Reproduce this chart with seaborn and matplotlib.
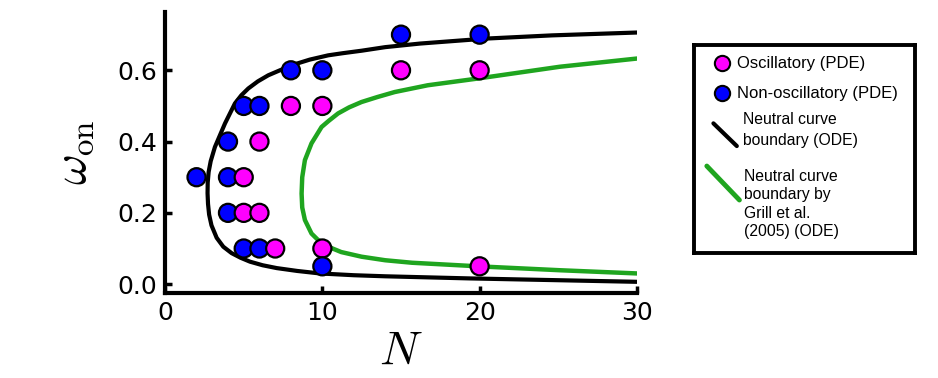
import pandas as pd
import matplotlib.pyplot as plt
import seaborn as sns

# Simulation points (PDE)
osc_N = [5, 5, 6, 6, 7, 8, 10, 10, 15, 20, 20]
osc_w = [0.3, 0.2, 0.2, 0.4, 0.1, 0.5, 0.5, 0.1, 0.6, 0.6, 0.05]
non_N = [2, 4, 4, 4, 5, 6, 5, 6, 8, 10, 10, 15, 20]
non_w = [0.3, 0.4, 0.3, 0.2, 0.5, 0.5, 0.1, 0.1, 0.6, 0.6, 0.05, 0.7, 0.7]

# Neutral curve (ODE), upper branch -> nose -> lower branch
ode_N = [30, 24.6, 20.4, 16.2, 14.0, 12.5, 11.3, 10.37, 9.2, 8.25, 7.3, 6.56, 5.9,
         5.29, 4.85, 4.44, 3.81, 3.17, 2.9, 2.77, 2.71, 2.70, 2.73, 2.8, 2.95, 3.28,
         3.7, 4.23, 4.8, 5.4, 6.2, 7.1, 8.4, 9.84, 12, 14, 19.4, 25, 30]
ode_w = [0.706, 0.698, 0.689, 0.675, 0.665, 0.655, 0.648, 0.642, 0.630, 0.617, 0.600,
         0.586, 0.569, 0.549, 0.530, 0.507, 0.451, 0.385, 0.345, 0.315, 0.285, 0.255,
         0.225, 0.195, 0.165, 0.13, 0.105, 0.087, 0.074, 0.063, 0.053, 0.045, 0.037,
         0.030, 0.025, 0.022, 0.016, 0.011, 0.0065]

# Neutral curve by Grill et al. (2005)
grill_N = [30, 25.1, 19.9, 16.7, 14.6, 13.5, 12.49, 11.7, 11.0, 10.4, 9.95, 9.31,
           8.89, 8.72, 8.68, 8.72, 8.89, 9.31, 9.7, 10.37, 11.2, 12.49, 14.0, 15.7,
           19.9, 25.1, 30]
grill_w = [0.633, 0.61, 0.577, 0.558, 0.539, 0.525, 0.511, 0.496, 0.479, 0.458, 0.441,
           0.395, 0.348, 0.30, 0.254, 0.215, 0.18, 0.142, 0.125, 0.105, 0.090, 0.077,
           0.067, 0.060, 0.050, 0.039, 0.030]

x_ticks = [0, 10, 20, 30]
y_ticks = [0.0, 0.2, 0.4, 0.6]
legend_labels = ["Oscillatory (PDE)", "Non-oscillatory (PDE)",
                 "Neutral curve\nboundary (ODE)",
                 "Neutral curve\nboundary by\nGrill et al.\n(2005) (ODE)"]

green = "#1fa51f"
palette = {"osc": "#ff00ff", "non": "#0000ff"}

sns.set_style("white")
plt.rcParams["mathtext.fontset"] = "cm"
plt.rcParams["font.family"] = ["DejaVu Sans"]

points = pd.DataFrame({
    "N": osc_N + non_N,
    "w": osc_w + non_w,
    "kind": ["osc"] * len(osc_N) + ["non"] * len(non_N),
}).sort_values("N", kind="stable")

fig = plt.figure(figsize=(9.38, 3.78), dpi=100)
ax = fig.add_axes([0.176, 0.2257, 0.503, 0.742])

sns.lineplot(x=ode_N, y=ode_w, sort=False, estimator=None, color="black", lw=3, ax=ax)
sns.lineplot(x=grill_N, y=grill_w, sort=False, estimator=None, color=green, lw=3.2, ax=ax)
sns.scatterplot(data=points, x="N", y="w", hue="kind", palette=palette, s=170,
                edgecolor="black", linewidth=1.6, legend=False, zorder=3, ax=ax)

ax.set_xlim(0, 30)
ax.set_ylim(-0.024, 0.763)
ax.set_xticks(x_ticks)
ax.set_xticklabels([str(t) for t in x_ticks])
ax.set_yticks(y_ticks)
ax.set_yticklabels([f"{t:.1f}" for t in y_ticks])
ax.tick_params(direction="in", length=5, width=2.5, labelsize=18, pad=6,
               bottom=True, left=True, color="black", labelcolor="black")
for side in ["top", "right"]:
    ax.spines[side].set_visible(False)
for side in ["left", "bottom"]:
    ax.spines[side].set_linewidth(3)
    ax.spines[side].set_color("black")
ax.set_xlabel(r"$N$", fontsize=34, labelpad=3, color="black")
ax.set_ylabel(r"$\omega_{\mathrm{on}}$", fontsize=34, labelpad=15, color="black")

# Legend drawn in its own box (pixel-like local coordinates)
lg = fig.add_axes([0.740, 0.3307, 0.2356, 0.550])
lg.set_xlim(0, 221)
lg.set_ylim(208, 0)
lg.set_xticks([])
lg.set_yticks([])
for sp in lg.spines.values():
    sp.set_linewidth(2.8)
    sp.set_color("black")

lg.plot([28.3], [18.3], marker="o", ms=11, color=palette["osc"], mec="black", mew=1.5)
lg.plot([28.3], [48.3], marker="o", ms=11, color=palette["non"], mec="black", mew=1.5)
lg.plot([19.3, 42.7], [78.3, 101], color="black", lw=3)
lg.plot([12.7, 45.3], [121, 155], color=green, lw=3.5)

fam = ["Liberation Sans", "DejaVu Sans"]
lg.text(42.7, 18.3, legend_labels[0], va="center", ha="left", fontsize=12,
        family=fam, color="black")
lg.text(42.7, 48.3, legend_labels[1], va="center", ha="left", fontsize=12,
        family=fam, color="black")
lg.text(49.3, 85, legend_labels[2], va="center", ha="left", fontsize=11.3,
        linespacing=1.5, family=fam, color="black")
lg.text(50.3, 159, legend_labels[3], va="center", ha="left", fontsize=11.3,
        linespacing=1.3, family=fam, color="black")

fig.savefig("out.png", dpi=100, facecolor="white")
plt.close(fig)
